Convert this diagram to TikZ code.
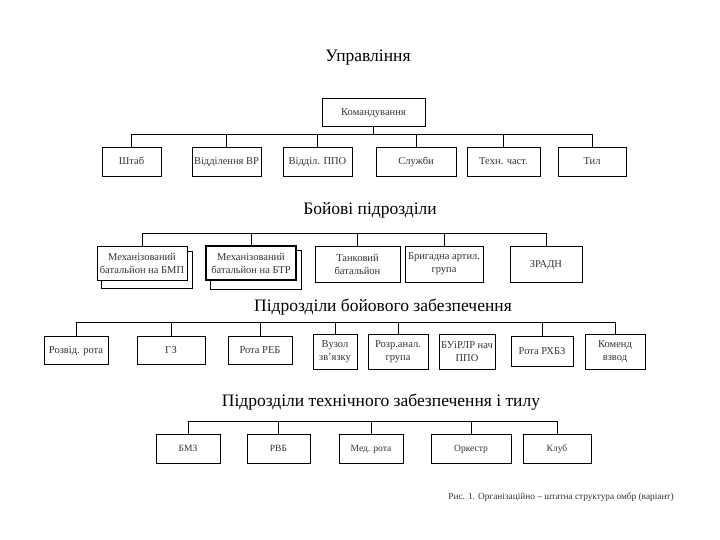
\documentclass[tikz,border=0pt]{standalone}
\usepackage{fontspec}
\setmainfont{Liberation Serif}
\usetikzlibrary{backgrounds}
\tikzset{
  boxbase/.style={draw=black, line width=0.8pt, fill=white, inner sep=0pt,
    text=black!80, font=\fontsize{10.5}{13}\selectfont},
  bx/.style={boxbase, text height=7pt, text depth=0pt},
  bxm/.style={boxbase, align=center},
  bxs/.style={boxbase, font=\fontsize{9.5}{12}\selectfont, text height=6.3pt, text depth=0pt},
  ttl/.style={inner sep=0pt, font=\fontsize{17.5}{20}\selectfont},
  captxt/.style={inner sep=0pt, text=black!80, font=\fontsize{9.3}{11}\selectfont},
  ln/.style={line width=0.9pt},
  shd/.style={draw=black, line width=0.8pt, fill=white}
}
\begin{document}
\begin{tikzpicture}[x=1pt,y=-1pt]
\useasboundingbox (0,0) rectangle (720,540);
% ---------- Row 1
\node[ttl] (t1) at (368,58) {Управління};
\node[bx, minimum width=103, minimum height=28] (k) at (373.5,112) {Командування};
\node[bx, minimum width=59, minimum height=29] (s1) at (131.5,161.5) {Штаб};
\node[bx, minimum width=69, minimum height=29] (s2) at (226.5,161.5) {Відділення ВР};
\node[bx, minimum width=69, minimum height=29] (s3) at (317.5,161.5) {Відділ. ППО};
\node[bx, minimum width=80, minimum height=29] (s4) at (416,161.5) {Служби};
\node[bx, minimum width=73, minimum height=29] (s5) at (503.5,161.5) {Техн. част.};
\node[bx, minimum width=68, minimum height=29] (s6) at (592,161.5) {Тил};
\coordinate (bus1) at (0,134);
\draw[ln] (s1.north) -- (s1.north |- bus1) -- (s6.north |- bus1) -- (s6.north);
\draw[ln] (k.south) -- (k.south |- bus1);
\foreach \n in {s2,s3,s4,s5} \draw[ln] (\n.north) -- (\n.north |- bus1);
% ---------- Row 2
\node[ttl] (t2) at (370,210) {Бойові підрозділи};
\node[bxm, minimum width=90, minimum height=34] (b1) at (142,263) {Механізований\\батальйон на БМП};
\node[bxm, line width=1.3pt, minimum width=90, minimum height=34] (b2) at (251,263) {Механізований\\батальйон на БТР};
\node[bxm, minimum width=85, minimum height=36] (b3) at (357.5,264) {Танковий\\батальйон};
\node[bxm, minimum width=78, minimum height=36] (b4) at (444,264) {Бригадна артил.\\група};
\node[bx, minimum width=72, minimum height=36] (b5) at (546,264) {ЗРАДН};
\begin{scope}[on background layer]
  \draw[shd] ([shift={(5,6)}]b1.north west) rectangle ([shift={(5,8)}]b1.south east);
  \draw[shd, line width=1.1pt] ([shift={(5,5)}]b2.north west) rectangle ([shift={(5,9)}]b2.south east);
\end{scope}
\coordinate (bus2) at (0,233);
\draw[ln] (b1.north) -- (b1.north |- bus2) -- (b5.north |- bus2) -- (b5.north);
\foreach \n in {b2,b3,b4} \draw[ln] (\n.north) -- (\n.north |- bus2);
% ---------- Row 3
\node[ttl] (t3) at (383,307) {Підрозділи бойового забезпечення};
\node[bx, minimum width=64, minimum height=28] (r1) at (76,350) {Розвід. рота};
\node[bx, minimum width=68, minimum height=28] (r2) at (171,350) {ГЗ};
\node[bx, minimum width=64, minimum height=28] (r3) at (260,350) {Рота РЕБ};
\node[bxm, minimum width=44, minimum height=35] (r4) at (335,351.5) {Вузол\\зв’язку};
\node[bxm, minimum width=60, minimum height=35] (r5) at (398,351.5) {Розр.анал.\\група};
\node[bxm, minimum width=56, minimum height=35] (r6) at (467,351.5) {БУіРЛР нач\\ППО};
\node[bx, minimum width=62, minimum height=30] (r7) at (542,351) {Рота РХБЗ};
\node[bxm, minimum width=60, minimum height=35] (r8) at (615,351.5) {Коменд\\взвод};
\coordinate (bus3) at (0,322);
\draw[ln] (r1.north) -- (r1.north |- bus3) -- (r8.north |- bus3) -- (r8.north);
\foreach \n in {r2,r3,r4,r5,r7} \draw[ln] (\n.north) -- (\n.north |- bus3);
% ---------- Row 4
\node[ttl] (t4) at (381,402) {Підрозділи технічного забезпечення і тилу};
\node[bxs, minimum width=64, minimum height=29] (q1) at (188,448.5) {БМЗ};
\node[bxs, minimum width=63, minimum height=29] (q2) at (278.5,448.5) {РВБ};
\node[bxs, minimum width=64, minimum height=29] (q3) at (371,448.5) {Мед. рота};
\node[bxs, minimum width=80, minimum height=29] (q4) at (471,448.5) {Оркестр};
\node[bxs, minimum width=68, minimum height=29] (q5) at (557,448.5) {Клуб};
\coordinate (bus4) at (0,421);
\draw[ln] (q1.north) -- (q1.north |- bus4) -- (q5.north |- bus4) -- (q5.north);
\foreach \n in {q2,q3,q4} \draw[ln] (\n.north) -- (\n.north |- bus4);
% ---------- Caption
\node[captxt] (cp) at (561,497) {Рис. 1. Організаційно – штатна структура омбр (варіант)};
\end{tikzpicture}
\end{document}
